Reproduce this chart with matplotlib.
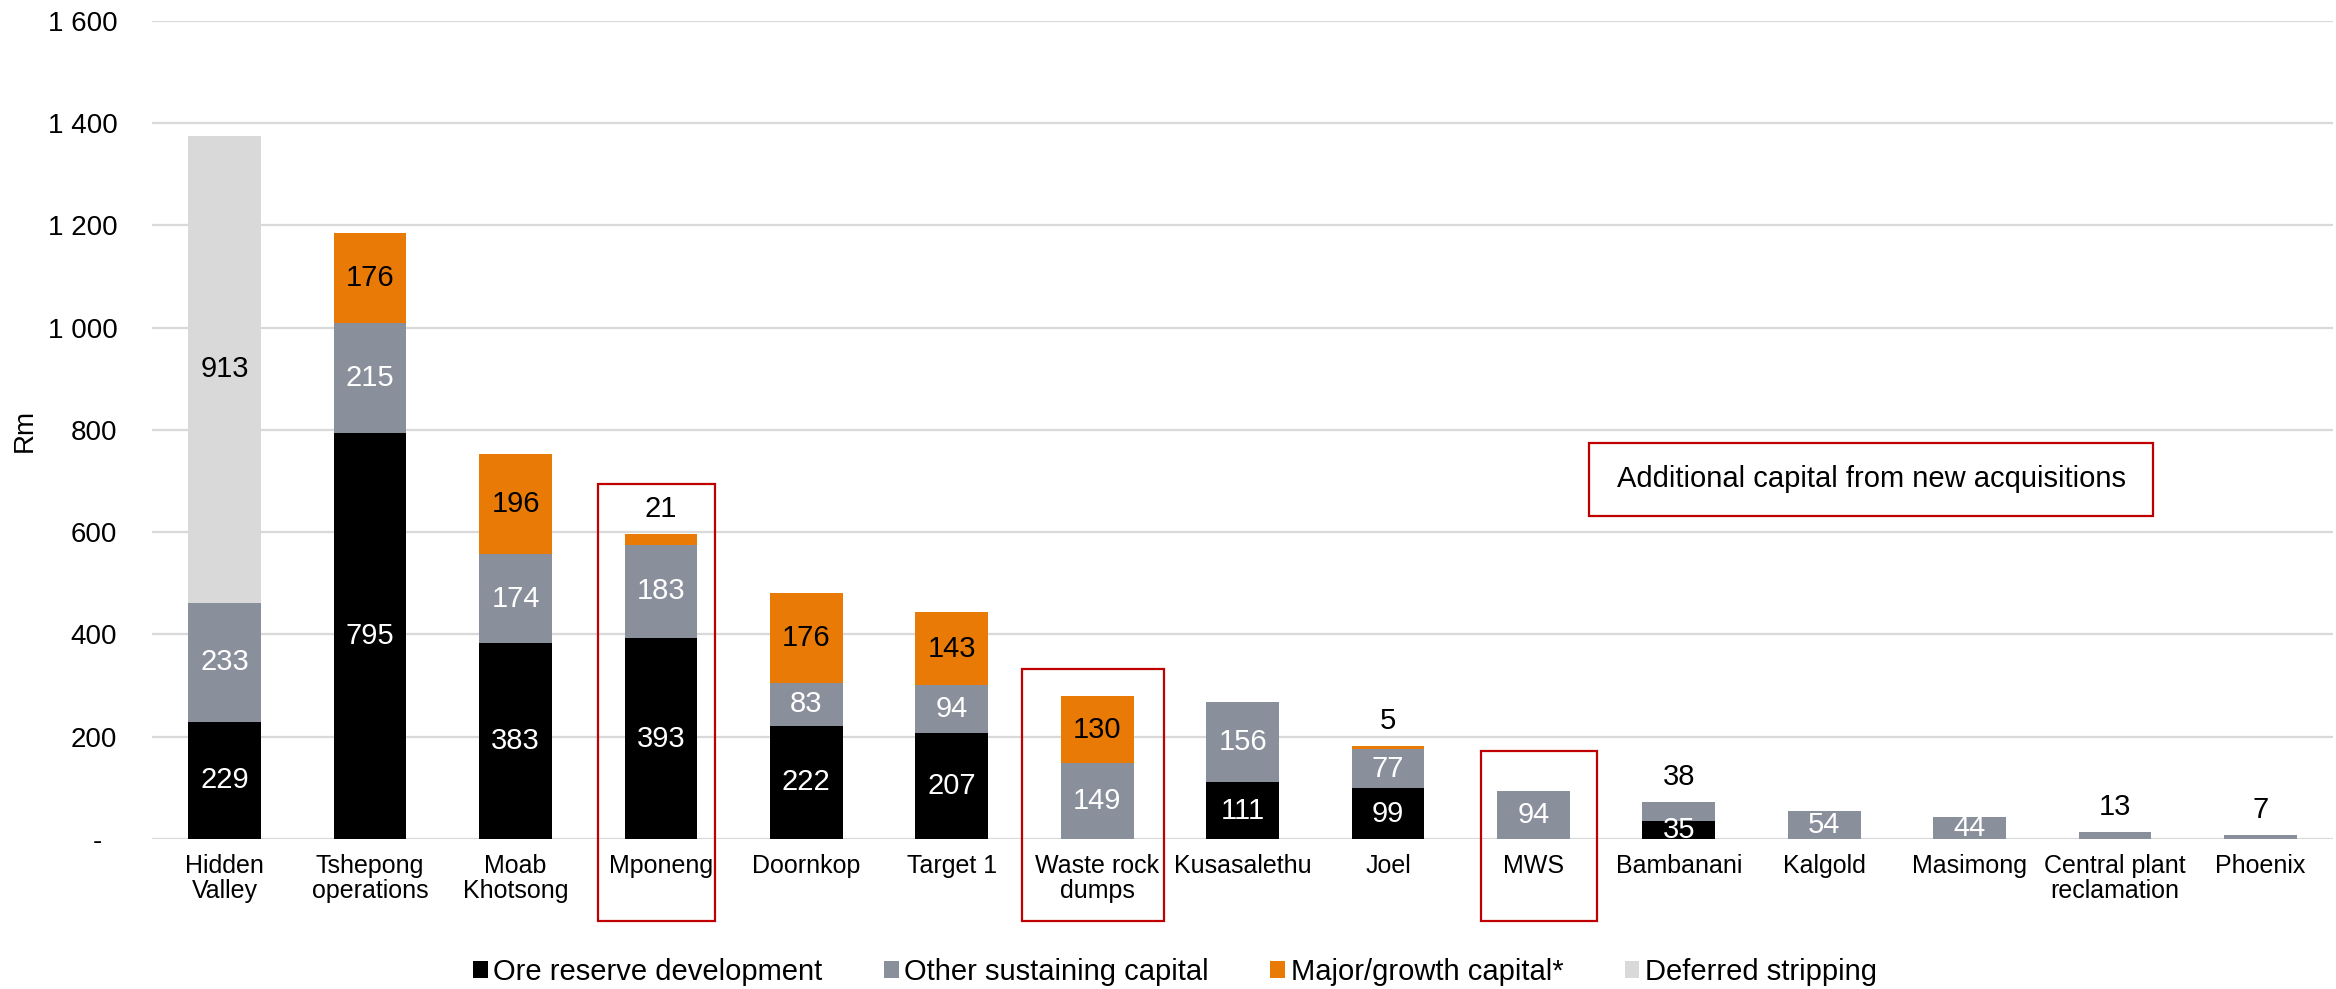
import matplotlib
matplotlib.use('Agg')
import matplotlib.pyplot as plt
from matplotlib.patches import Rectangle
import numpy as np

plt.rcParams['font.family'] = ['Liberation Sans', 'DejaVu Sans']

# data (Rm)
minas = ["Hidden\nValley", "Tshepong\noperations", "Moab\nKhotsong", "Mponeng", "Doornkop",
         "Target 1", "Waste rock\ndumps", "Kusasalethu", "Joel", "MWS", "Bambanani",
         "Kalgold", "Masimong", "Central plant\nreclamation", "Phoenix"]
ore_reserve = [229, 795, 383, 393, 222, 207, 0, 111, 99, 0, 35, 0, 0, 0, 0]
other_sustaining = [233, 215, 174, 183, 83, 94, 149, 156, 77, 94, 38, 54, 44, 13, 7]
major_growth = [0, 176, 196, 21, 176, 143, 130, 0, 5, 0, 0, 0, 0, 0, 0]
deferred_stripping = [913, 0, 0, 0, 0, 0, 0, 0, 0, 0, 0, 0, 0, 0, 0]

series_names = ["Ore reserve development", "Other sustaining capital",
                "Major/growth capital*", "Deferred stripping"]
cores = ["#000000", "#8A8F9C", "#E97A06", "#D9D9D9"]
cor_texto = ["white", "white", "black", "black"]

# caixas vermelhas (novas aquisicoes): indice, x esq, x dir, topo, base
caixas = [(3, -0.43, 0.37, 694, -160), (6, -0.52, 0.46, 332, -160), (9, -0.36, 0.44, 172, -160)]

fig = plt.figure(figsize=(23.36, 9.89), dpi=100)
ax = fig.add_axes([0.06507, 0.15167, 0.9337, 0.8271])

x = np.arange(len(minas))
series = [ore_reserve, other_sustaining, major_growth, deferred_stripping]
base = np.zeros(len(minas))
tops = np.array(series).sum(axis=0)

for k, vals in enumerate(series):
    vals = np.array(vals, dtype=float)
    ax.bar(x, vals, 0.5, bottom=base, color=cores[k], label=series_names[k], zorder=2)
    for i, v in enumerate(vals):
        if v <= 0:
            continue
        is_top = abs(base[i] + v - tops[i]) < 1e-9
        if is_top and v < 40:
            ax.annotate(str(int(v)), (x[i], base[i] + v), xytext=(0, 8),
                        textcoords="offset points", ha="center", va="bottom",
                        fontsize=21, color="black", zorder=4)
        else:
            ax.text(x[i], base[i] + v / 2, str(int(v)), ha="center", va="center",
                    fontsize=21, color=cor_texto[k], zorder=4)
    base = base + vals

for (i, x0, x1, y1, y0) in caixas:
    r = Rectangle((i + x0, y0), x1 - x0, y1 - y0, fill=False, edgecolor="#C00000",
                  linewidth=1.6, clip_on=False, zorder=5)
    ax.add_patch(r)

# caixa de texto
ax.add_patch(Rectangle((9.383, 632), 3.879, 143, fill=False, edgecolor="#C00000",
                       linewidth=1.6, zorder=5))
ax.text(9.383 + 3.879 / 2, 632 + 143 / 2, "Additional capital from new acquisitions",
        ha="center", va="center", fontsize=21, zorder=5)

ax.set_xlim(-0.5, 14.5)
ax.set_ylim(0, 1600)
yt = np.arange(0, 1601, 200)
ax.set_yticks(yt)
ax.set_yticklabels(["-  "] + ["{:,}".format(v).replace(",", " ") for v in yt[1:]], fontsize=20)
ax.set_xticks(x)
ax.set_xticklabels(minas, fontsize=18, linespacing=1.05)
ax.tick_params(axis="y", length=0, pad=25)
ax.tick_params(axis="x", length=0, pad=11)
ax.grid(axis="y", color="#D9D9D9", linewidth=1.6, zorder=0)
ax.set_axisbelow(True)
for s in ax.spines.values():
    s.set_visible(False)

ax.set_ylabel("Rm", fontsize=20)
ax.yaxis.set_label_coords(-0.0525, 0.5)

fig.legend(loc="center", bbox_to_anchor=(0.503, 1 - 972 / 989), ncol=4, frameon=False,
           fontsize=21, handlelength=0.5, handleheight=0.5, handletextpad=0.2,
           columnspacing=2.1)

plt.savefig("out.png", dpi=100)
